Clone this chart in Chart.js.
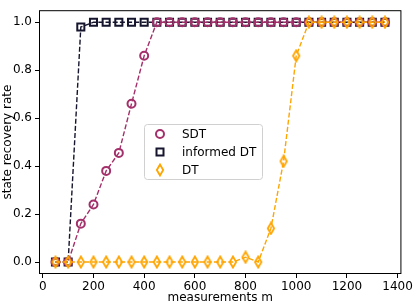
<!DOCTYPE html>
<html>
<head>
<meta charset="utf-8">
<script src="https://cdn.jsdelivr.net/npm/chart.js@4.4.1/dist/chart.umd.min.js"></script>
<style>
  html, body { margin: 0; padding: 0; background: #fff; }
  #wrap { width: 415px; height: 305px; }
</style>
</head>
<body>
<div id="wrap"><canvas id="myChart" width="415" height="305"></canvas></div>
<script>
// measurements m
const M = [50, 100, 150, 200, 250, 300, 350, 400, 450, 500, 550, 600, 650, 700,
           750, 800, 850, 900, 950, 1000, 1050, 1100, 1150, 1200, 1250, 1300, 1350];

const SDT = [0, 0, 0.16, 0.24, 0.38, 0.455, 0.66, 0.86, 1, 1, 1, 1, 1, 1,
             1, 1, 1, 1, 1, 1, 1, 1, 1, 1, 1, 1, 1];
const INFORMED_DT = [0, 0, 0.98, 1, 1, 1, 1, 1, 1, 1, 1, 1, 1, 1,
                     1, 1, 1, 1, 1, 1, 1, 1, 1, 1, 1, 1, 1];
const DT = [0, 0, 0, 0, 0, 0, 0, 0, 0, 0, 0, 0, 0, 0,
            0, 0.02, 0, 0.14, 0.42, 0.86, 1, 1, 1, 1, 1, 1, 1];

const X_TICKS = [0, 200, 400, 600, 800, 1000, 1200, 1400];
const Y_TICKS = [0, 0.2, 0.4, 0.6, 0.8, 1.0];

const C_SDT = '#a3306a';
const C_INF = '#15152e';
const C_DT = '#ffa500';
const FONT = 'DejaVu Sans';

// thin diamond like matplotlib 'd'
function diamond(color) {
    const c = document.createElement('canvas');
    c.width = 10; c.height = 14;
    const g = c.getContext('2d');
    g.strokeStyle = color;
    g.lineWidth = 1.8;
    g.beginPath();
    g.moveTo(5, 1.5); g.lineTo(8.2, 7); g.lineTo(5, 12.5); g.lineTo(1.8, 7);
    g.closePath();
    g.stroke();
    return c;
}
const DIAMOND = diamond(C_DT);

const pts = arr => M.map((x, i) => ({ x, y: arr[i] }));

const frame = {
    id: 'frame',
    afterDraw(chart) {
        const { ctx, chartArea: a } = chart;
        ctx.save();
        ctx.strokeStyle = '#000';
        ctx.lineWidth = 1;
        ctx.strokeRect(a.left + 0.5, a.top + 0.5, a.right - a.left - 1, a.bottom - a.top - 1);

        // legend box
        const bx = 144.5, by = 124.5, bw = 118, bh = 55, r = 3;
        ctx.globalAlpha = 0.8;
        ctx.fillStyle = '#fff';
        ctx.beginPath();
        ctx.roundRect(bx, by, bw, bh, r);
        ctx.fill();
        ctx.globalAlpha = 1;
        ctx.strokeStyle = '#d0d0d0';
        ctx.stroke();

        const rows = [
            { label: 'SDT', y: 134 },
            { label: 'informed DT', y: 152 },
            { label: 'DT', y: 170 },
        ];
        const mx = 160;
        ctx.lineWidth = 2;
        // circle
        ctx.strokeStyle = C_SDT;
        ctx.beginPath(); ctx.arc(mx, rows[0].y, 4, 0, Math.PI * 2); ctx.stroke();
        // square
        ctx.strokeStyle = C_INF;
        ctx.strokeRect(mx - 3.5, rows[1].y - 3.5, 7, 7);
        // diamond
        ctx.drawImage(DIAMOND, mx - 5, rows[2].y - 7);

        ctx.fillStyle = '#000';
        ctx.font = `12px "${FONT}"`;
        ctx.textBaseline = 'middle';
        ctx.textAlign = 'left';
        rows.forEach(rw => ctx.fillText(rw.label, 182, rw.y + 0.5));
        ctx.restore();
    }
};

const axisFont = { family: FONT, size: 12 };

new Chart(document.getElementById('myChart'), {
    type: 'line',
    data: {
        datasets: [
            {
                label: 'SDT',
                data: pts(SDT),
                borderColor: C_SDT,
                backgroundColor: 'rgba(0,0,0,0)',
                borderWidth: 1.4,
                borderDash: [5, 2.2],
                pointStyle: 'circle',
                pointRadius: 4,
                pointBorderWidth: 2,
                order: 1,
            },
            {
                label: 'informed DT',
                data: pts(INFORMED_DT),
                borderColor: C_INF,
                backgroundColor: 'rgba(0,0,0,0)',
                borderWidth: 1.4,
                borderDash: [5, 2.2],
                pointStyle: 'rect',
                pointRadius: 5,
                pointBorderWidth: 2,
                order: 2,
            },
            {
                label: 'DT',
                data: pts(DT),
                borderColor: C_DT,
                backgroundColor: 'rgba(0,0,0,0)',
                borderWidth: 1.4,
                borderDash: [5, 2.2],
                pointStyle: DIAMOND,
                order: 0,
            },
        ]
    },
    options: {
        responsive: false,
        animation: false,
        devicePixelRatio: 1,
        layout: { padding: { top: 3, right: 11, left: 0, bottom: 0 } },
        plugins: {
            legend: { display: false },
            tooltip: { enabled: false },
        },
        scales: {
            x: {
                type: 'linear',
                min: -15,
                max: 1415,
                afterBuildTicks: s => { s.ticks = X_TICKS.map(v => ({ value: v })); },
                afterFit: s => { s.height = 31; },
                grid: { display: true, drawOnChartArea: false, drawTicks: true, tickLength: 4, color: '#000', tickColor: '#000' },
                border: { display: false },
                ticks: { color: '#000', font: axisFont, padding: 2, maxRotation: 0, callback: v => String(v) },
                title: { display: true, text: 'measurements m', color: '#000', font: axisFont, padding: { top: 0, bottom: 0 } },
            },
            y: {
                min: -0.05,
                max: 1.05,
                afterBuildTicks: s => { s.ticks = Y_TICKS.map(v => ({ value: v })); },
                afterFit: s => { s.width = 39; },
                grid: { display: true, drawOnChartArea: false, drawTicks: true, tickLength: 4, color: '#000', tickColor: '#000' },
                border: { display: false },
                ticks: { color: '#000', font: axisFont, padding: 3, callback: v => v.toFixed(1) },
                title: { display: true, text: 'state recovery rate', color: '#000', font: axisFont, padding: { top: 1, bottom: 0 } },
            }
        }
    },
    plugins: [frame]
});
</script>
</body>
</html>
